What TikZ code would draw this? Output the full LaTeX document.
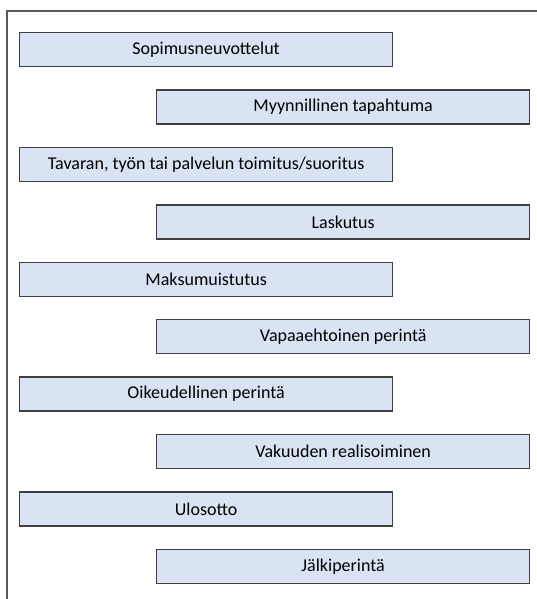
\documentclass[tikz,border=0pt]{standalone}
\usepackage{fontspec}
\setmainfont{Carlito}
\definecolor{boxfill}{HTML}{DAE3F3}
\definecolor{boxline}{HTML}{404040}
\definecolor{frameline}{HTML}{595959}
\begin{document}
\begin{tikzpicture}[x=1pt,y=-1pt,
  stepbox/.style={draw=boxline,line width=1.3pt,fill=boxfill,minimum width=373pt,minimum height=34pt,inner sep=0pt,font=\fontsize{18}{20}\selectfont,text=black,anchor=north west}]
\useasboundingbox (0,0) rectangle (537,599);
\draw[frameline,line width=1.2pt] (7,599) -- (7,11) -- (537,11);
\node[stepbox] (b1) at (19,32) {Sopimusneuvottelut};
\node[stepbox] (b2) at (156,89.4) {Myynnillinen tapahtuma};
\node[stepbox] (b3) at (19,146.8) {Tavaran, työn tai palvelun toimitus/suoritus};
\node[stepbox] (b4) at (156,204.2) {Laskutus};
\node[stepbox] (b5) at (19,261.6) {Maksumuistutus};
\node[stepbox] (b6) at (156,319) {Vapaaehtoinen perintä};
\node[stepbox] (b7) at (19,376.4) {Oikeudellinen perintä};
\node[stepbox] (b8) at (156,433.8) {Vakuuden realisoiminen};
\node[stepbox] (b9) at (19,491.2) {Ulosotto};
\node[stepbox] (b10) at (156,548.6) {Jälkiperintä};
\end{tikzpicture}
\end{document}
